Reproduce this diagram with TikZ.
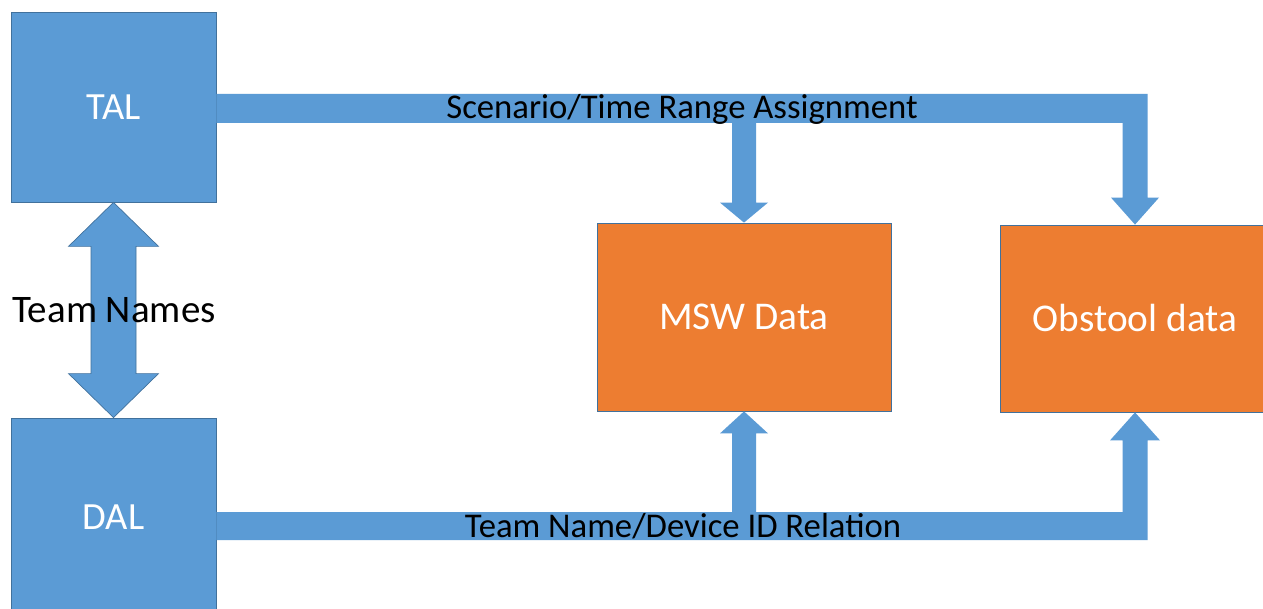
\documentclass[tikz,border=0pt]{standalone}
\usepackage{fontspec}
\setmainfont{Carlito}
\usetikzlibrary{calc}
\definecolor{boxblue}{HTML}{5B9BD5}
\definecolor{boxorange}{HTML}{ED7D31}
\definecolor{edgeblue}{HTML}{41719C}
\begin{document}
\begin{tikzpicture}[x=1pt,y=-1pt,
  bluebox/.style={draw=edgeblue,line width=0.8pt,fill=boxblue,text=white,
    minimum width=205pt,inner sep=0pt,font=\fontsize{38.5}{46}\selectfont},
  orangebox/.style={draw=edgeblue,line width=0.8pt,fill=boxorange,text=white,
    inner sep=0pt,font=\fontsize{39.3}{47}\selectfont},
  flow/.style={fill=boxblue},
  flowedge/.style={fill=boxblue,draw=edgeblue,line width=0.7pt,line join=miter},
  lbl/.style={text=black,inner sep=0pt,font=\fontsize{34.7}{41}\selectfont}]
\useasboundingbox (0,0) rectangle (1263,609);
\fill[white] (0,0) rectangle (1263,609);
\clip (0,0) rectangle (1263,609);

% boxes
\node[bluebox,minimum height=190pt] (tal) at (113.5,107) {TAL};
\node[bluebox,minimum height=198pt] (dal) at (113.5,517) {DAL};
\node[orangebox,minimum width=294pt,minimum height=188pt] (msw) at (744,317) {MSW Data};
\node[orangebox,minimum width=270pt,minimum height=187pt] (obs) at (1135,318.5) {Obstool data};

% helper points on the flows
\coordinate (t1) at ($(tal.east)+(0,-13)$);
\coordinate (t2) at ($(tal.east)+(0,16)$);
\coordinate (b1) at ($(dal.east)+(0,-5)$);
\coordinate (b2) at ($(dal.east)+(0,23)$);
\coordinate (bm) at ($(dal.east)+(0,9)$);
\coordinate (oL) at ($(obs.north)+(-12.5,0)$);
\coordinate (oR) at ($(obs.north)+(12.5,0)$);
\coordinate (mL) at ($(msw.north)+(-12,0)$);
\coordinate (mR) at ($(msw.north)+(12,0)$);

% TAL -> Obstool data (bent arrow)
\fill[flow] (t1) -- (oR |- t1) -- ($(obs.north)+(12.5,-27)$) -- ($(obs.north)+(24,-27)$)
  -- (obs.north) -- ($(obs.north)+(-24,-27)$) -- ($(obs.north)+(-12.5,-27)$)
  -- (oL |- t2) -- (t2) -- cycle;
% branch down to MSW Data
\fill[flow] (mL |- tal.east) -- ($(msw.north)+(-12,-20)$) -- ($(msw.north)+(-24,-20)$)
  -- (msw.north) -- ($(msw.north)+(24,-20)$) -- ($(msw.north)+(12,-20)$)
  -- (mR |- tal.east) -- cycle;

% DAL -> Obstool data (bent arrow)
\fill[flow] (b2) -- (oR |- b2) -- ($(obs.south)+(12.5,28)$) -- ($(obs.south)+(25,28)$)
  -- (obs.south) -- ($(obs.south)+(-25,28)$) -- ($(obs.south)+(-12.5,28)$)
  -- (oL |- b1) -- (b1) -- cycle;
% branch up to MSW Data
\fill[flow] (mL |- bm) -- ($(msw.south)+(-12,22)$) -- ($(msw.south)+(-24,22)$)
  -- (msw.south) -- ($(msw.south)+(24,22)$) -- ($(msw.south)+(12,22)$)
  -- (mR |- bm) -- cycle;

% TAL <-> DAL
\draw[flowedge] (tal.south) -- ($(tal.south)+(45,44)$) -- ($(tal.south)+(22.5,44)$)
  -- ($(dal.north)+(22.5,-44)$) -- ($(dal.north)+(45,-44)$) -- (dal.north)
  -- ($(dal.north)+(-45,-44)$) -- ($(dal.north)+(-22.5,-44)$)
  -- ($(tal.south)+(-22.5,44)$) -- ($(tal.south)+(-45,44)$) -- cycle;

% flow labels
\node[lbl,anchor=base] (scen) at (682,119) {Scenario/Time Range Assignment};
\node[lbl,anchor=base] (rel) at (683,537) {Team Name/Device ID Relation};
\node[lbl,anchor=base,font=\fontsize{39}{45}\selectfont] (names) at (114,323) {Team Names};
\end{tikzpicture}
\end{document}
